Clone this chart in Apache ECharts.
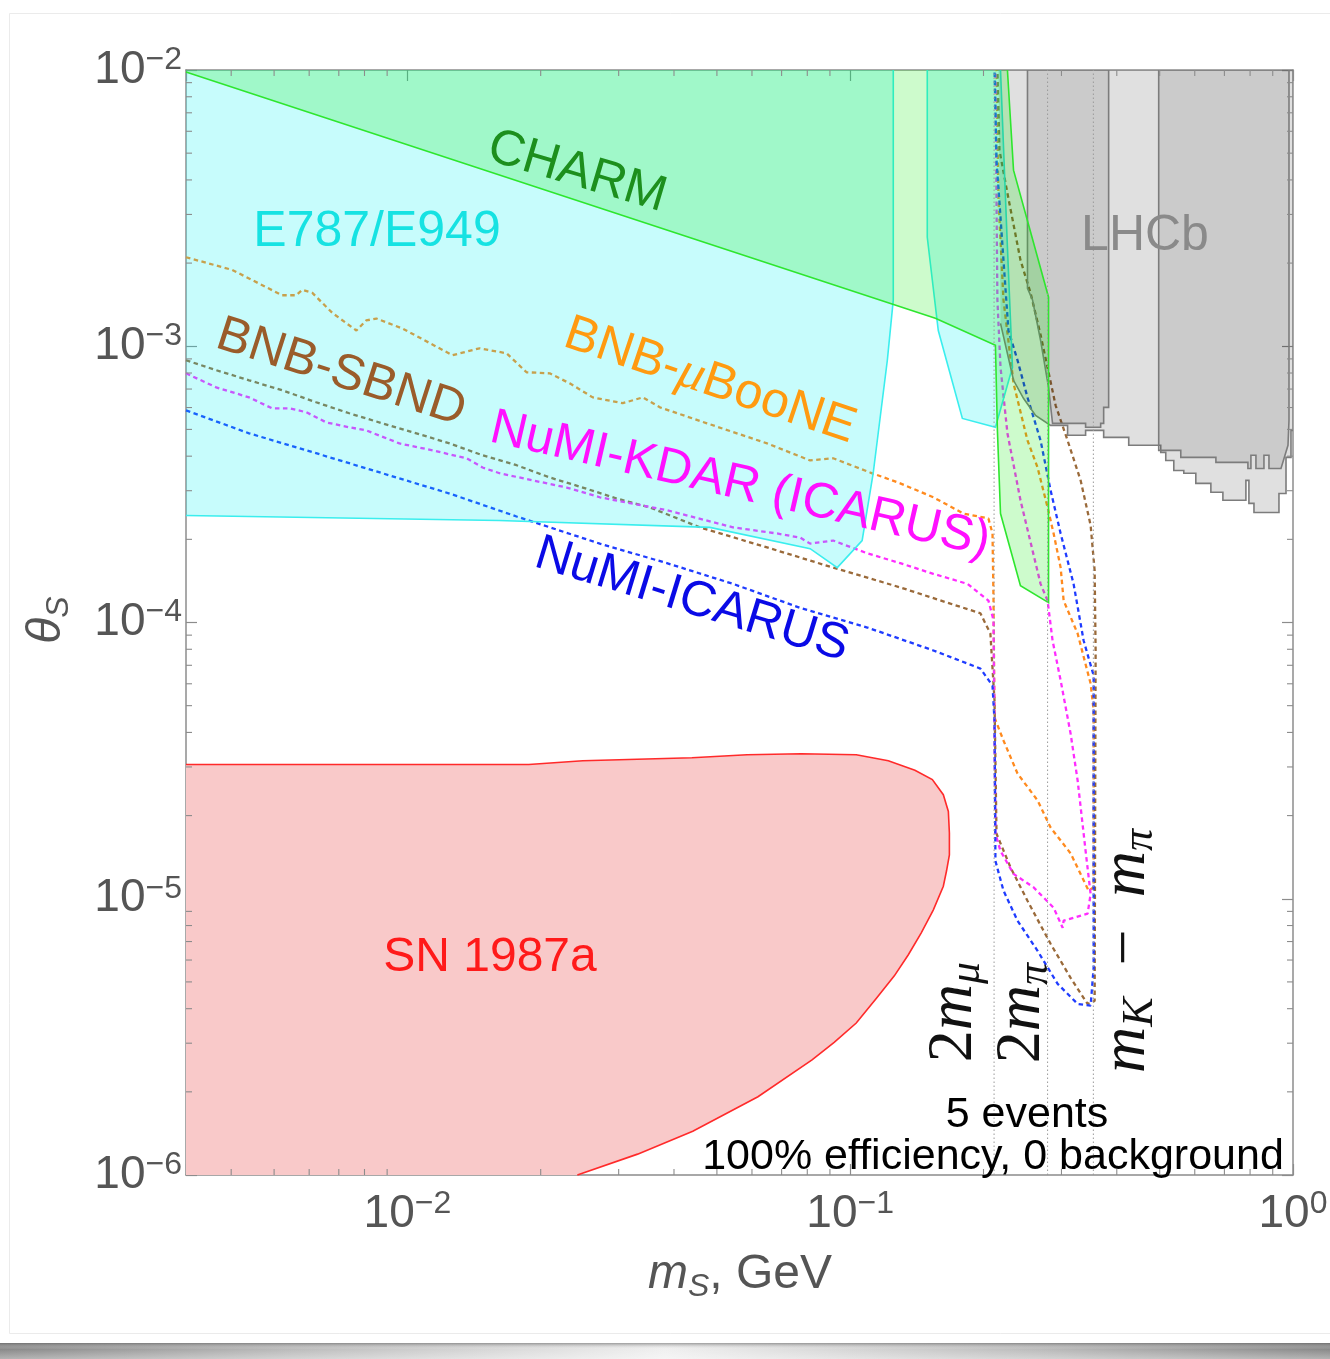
<!DOCTYPE html>
<html>
<head>
<meta charset="utf-8">
<script src="https://cdn.jsdelivr.net/npm/echarts@6/dist/echarts.min.js"></script>
<style>
  html, body { margin: 0; padding: 0; background: #ffffff; }
  #chart { width: 1330px; height: 1359px; }
</style>
</head>
<body>
<div id="chart"></div>
<script>
// ---------- axis ranges and ticks ----------
const xRange = [0.0031623, 1];      // m_S in GeV
const yRange = [1e-6, 1e-2];        // mixing angle theta_S
const xMinorTicks = [0.004, 0.005, 0.006, 0.007, 0.008, 0.009,
                     0.02, 0.03, 0.04, 0.05, 0.06, 0.07, 0.08, 0.09,
                     0.2, 0.3, 0.4, 0.5, 0.6, 0.7, 0.8, 0.9];
const yMinorTicks = [2e-6, 3e-6, 4e-6, 5e-6, 6e-6, 7e-6, 8e-6, 9e-6,
                     2e-5, 3e-5, 4e-5, 5e-5, 6e-5, 7e-5, 8e-5, 9e-5,
                     2e-4, 3e-4, 4e-4, 5e-4, 6e-4, 7e-4, 8e-4, 9e-4,
                     2e-3, 3e-3, 4e-3, 5e-3, 6e-3, 7e-3, 8e-3, 9e-3];

// kinematic thresholds: 2 m_mu, 2 m_pi, m_K - m_pi (GeV)
const thresholdMasses = [0.2113, 0.2791, 0.3541];

// ---------- excluded regions: drawn edge + closure along the frame ----------
const charmEdge = [[0.0031623, 0.00983], [0.1557, 1.263e-3], [0.2128, 1.008e-3], [0.2150, 4.96e-4],
  [0.2185, 2.48e-4], [0.2424, 1.36e-4], [0.2805, 1.18e-4], [0.2805, 1.505e-3], [0.2338, 4.34e-3], [0.2265, 0.01]];
const charmClosure = [[0.0031623, 0.01]];

const e787MainEdge = [[0.1251, 0.01], [0.1251, 1.468e-3], [0.1213, 8.90e-4], [0.1127, 3.47e-4], [0.1064, 1.98e-4],
  [0.0935, 1.58e-4], [0.0812, 1.85e-4], [0.0482, 2.21e-4], [0.0161, 2.34e-4], [0.0031623, 2.44e-4]];
const e787MainClosure = [[0.0031623, 0.01]];

const e787RightEdge = [[0.1493, 0.01], [0.1493, 2.48e-3], [0.1581, 1.14e-3], [0.1792, 5.48e-4], [0.2128, 5.09e-4],
  [0.2325, 8.39e-4], [0.2265, 2.28e-3], [0.2185, 0.01]];
const e787RightClosure = [];

const lhcbOuterEdge = [[0.2185, 1.21e-3], [0.2338, 7.53e-4], [0.2462, 6.48e-4], [0.2622, 5.62e-4], [0.2835, 5.17e-4],
  [0.3097, 5.17e-4], [0.3097, 4.76e-4], [0.3401, 4.76e-4], [0.3401, 4.96e-4], [0.3736, 4.96e-4], [0.3736, 4.68e-4],
  [0.4256, 4.68e-4], [0.4256, 4.38e-4], [0.5027, 4.38e-4], [0.5027, 4.13e-4], [0.5160, 4.13e-4], [0.5160, 3.86e-4],
  [0.5380, 3.86e-4], [0.5380, 3.55e-4], [0.5667, 3.55e-4], [0.5667, 3.47e-4], [0.6033, 3.47e-4], [0.6033, 3.19e-4],
  [0.6524, 3.19e-4], [0.6524, 2.96e-4], [0.6945, 2.96e-4], [0.6945, 2.77e-4], [0.7828, 2.77e-4], [0.7828, 3.27e-4],
  [0.7951, 3.27e-4], [0.7951, 2.70e-4], [0.8163, 2.70e-4], [0.8163, 2.50e-4], [0.9296, 2.50e-4], [0.9296, 2.93e-4],
  [0.9643, 2.93e-4], [0.9643, 3.96e-4], [0.9896, 3.96e-4], [0.9896, 4.96e-4], [1.0, 4.96e-4]];
const lhcbOuterClosure = [[1.0, 0.01], [0.2162, 0.01]];

const lhcbBandAEdge = [[0.2514, 0.01], [0.2514, 1.62e-3], [0.2581, 1.47e-3], [0.2691, 1.05e-3], [0.2805, 7.10e-4],
  [0.2864, 5.26e-4], [0.3401, 5.26e-4], [0.3401, 5.09e-4], [0.3678, 5.09e-4], [0.3678, 5.26e-4], [0.3736, 5.26e-4],
  [0.3736, 6.01e-4], [0.3834, 6.01e-4], [0.3834, 0.01]];
const lhcbBandBEdge = [[0.4974, 0.01], [0.4974, 4.20e-4], [0.5579, 4.20e-4], [0.5579, 3.96e-4], [0.6697, 3.96e-4],
  [0.6697, 3.80e-4], [0.7910, 3.80e-4], [0.7910, 3.61e-4], [0.8035, 3.61e-4], [0.8035, 4.03e-4], [0.8247, 4.03e-4],
  [0.8247, 3.61e-4], [0.8598, 3.61e-4], [0.8598, 4.03e-4], [0.8825, 4.03e-4], [0.8825, 3.61e-4], [0.9394, 3.61e-4],
  [0.9743, 4.38e-4], [0.9794, 5.39e-4], [0.9794, 0.01]];

const snEdge = [[0.0031623, 3.06e-5], [0.0188, 3.06e-5], [0.0249, 3.16e-5], [0.0439, 3.24e-5], [0.0585, 3.32e-5],
  [0.0775, 3.35e-5], [0.1032, 3.32e-5], [0.1219, 3.16e-5], [0.1400, 2.92e-5], [0.1533, 2.70e-5], [0.1623, 2.38e-5],
  [0.1666, 2.07e-5], [0.1675, 1.73e-5], [0.1675, 1.44e-5], [0.1650, 1.26e-5], [0.1623, 1.11e-5], [0.1540, 9.10e-6],
  [0.1447, 7.53e-6], [0.1353, 6.27e-6], [0.1258, 5.26e-6], [0.1145, 4.35e-6], [0.1032, 3.55e-6], [0.0920, 3.02e-6],
  [0.0820, 2.61e-6], [0.0619, 1.92e-6], [0.0441, 1.44e-6], [0.0331, 1.19e-6], [0.0242, 1.0e-6]];
const snClosure = [[0.0031623, 1e-6]];

// ---------- projected sensitivity contours (5 events) ----------
const bnbMicroBooNE = [[0.0031623, 2.10e-3], [0.00402, 1.89e-3], [0.00521, 1.53e-3], [0.00561, 1.53e-3], [0.00579, 1.60e-3],
  [0.00610, 1.56e-3], [0.00677, 1.32e-3], [0.00767, 1.14e-3], [0.00807, 1.24e-3], [0.00851, 1.26e-3], [0.00974, 1.16e-3],
  [0.01264, 9.28e-4], [0.01455, 9.83e-4], [0.01675, 9.43e-4], [0.01858, 8.05e-4], [0.02096, 7.98e-4], [0.02326, 7.34e-4],
  [0.02622, 6.53e-4], [0.03064, 6.22e-4], [0.03401, 6.53e-4], [0.03717, 6.01e-4], [0.04748, 5.26e-4], [0.0649, 4.45e-4],
  [0.0812, 3.86e-4], [0.09152, 3.93e-4], [0.111, 3.49e-4], [0.1297, 3.19e-4], [0.1541, 2.84e-4], [0.1802, 2.48e-4],
  [0.2052, 2.38e-4], [0.2096, 2.10e-4], [0.2107, 1.20e-4], [0.2118, 4.53e-5], [0.2219, 3.74e-5], [0.2387, 2.84e-5],
  [0.2649, 2.27e-5], [0.2835, 1.81e-5], [0.3146, 1.46e-5], [0.3455, 1.07e-5], [0.3546, 1.10e-5], [0.3546, 4.80e-5],
  [0.3491, 6.01e-5], [0.3263, 9.12e-5], [0.3034, 1.20e-4], [0.2987, 1.58e-4], [0.288, 2.10e-4], [0.2791, 2.61e-4],
  [0.2649, 3.64e-4], [0.2514, 4.56e-4], [0.2338, 7.34e-4], [0.2219, 1.47e-3], [0.2162, 3.38e-3], [0.2140, 0.01]];

const bnbSbnd = [[0.0031623, 8.90e-4], [0.00370, 8.19e-4], [0.00439, 7.53e-4], [0.00521, 6.93e-4], [0.00622, 6.27e-4],
  [0.00739, 5.72e-4], [0.00878, 5.26e-4], [0.01048, 4.84e-4], [0.01245, 4.45e-4], [0.01478, 4.03e-4], [0.01764, 3.71e-4],
  [0.02096, 3.35e-4], [0.02489, 3.08e-4], [0.02971, 2.81e-4], [0.03528, 2.61e-4], [0.04577, 2.21e-4], [0.0649, 1.87e-4],
  [0.09152, 1.58e-4], [0.1297, 1.34e-4], [0.1684, 1.17e-4], [0.1968, 1.08e-4], [0.2073, 9.12e-5], [0.2118, 5.22e-5],
  [0.2140, 1.72e-5], [0.2301, 1.30e-5], [0.2514, 9.83e-6], [0.2835, 6.87e-6], [0.3146, 5.17e-6], [0.3437, 4.16e-6],
  [0.3565, 4.27e-6], [0.3583, 7.92e-5], [0.3565, 1.54e-4], [0.3491, 2.25e-4], [0.3314, 3.27e-4], [0.3097, 4.56e-4],
  [0.291, 6.11e-4], [0.2691, 1.10e-3], [0.2554, 1.56e-3], [0.2424, 2.05e-3], [0.2265, 3.58e-3], [0.2173, 5.13e-3],
  [0.2150, 0.01]];

const numiKdar = [[0.0031623, 7.98e-4], [0.00370, 7.10e-4], [0.00439, 6.53e-4], [0.00495, 5.96e-4], [0.00541, 5.96e-4],
  [0.00591, 5.77e-4], [0.00656, 5.30e-4], [0.00739, 5.09e-4], [0.00807, 4.96e-4], [0.00959, 4.45e-4], [0.01139, 4.20e-4],
  [0.0136, 3.93e-4], [0.01478, 3.64e-4], [0.01615, 3.47e-4], [0.01918, 3.27e-4], [0.02289, 3.08e-4], [0.02719, 2.84e-4],
  [0.03855, 2.55e-4], [0.05437, 2.21e-4], [0.06836, 2.10e-4], [0.07707, 2.03e-4], [0.0812, 1.93e-4], [0.09152, 1.98e-4],
  [0.1093, 1.78e-4], [0.1297, 1.64e-4], [0.1541, 1.50e-4], [0.184, 1.38e-4], [0.2052, 1.20e-4], [0.2107, 1.02e-4],
  [0.2128, 1.72e-5], [0.2185, 1.49e-5], [0.2338, 1.23e-5], [0.2594, 1.10e-5], [0.288, 9.28e-6], [0.3018, 7.85e-6],
  [0.3034, 8.33e-6], [0.3437, 8.83e-6], [0.3491, 1.04e-5], [0.3401, 1.49e-5], [0.3263, 2.68e-5], [0.3146, 3.96e-5],
  [0.2987, 6.17e-5], [0.2864, 8.61e-5], [0.2791, 1.20e-4], [0.2691, 1.38e-4], [0.2424, 2.77e-4], [0.2265, 4.84e-4],
  [0.2185, 8.39e-4], [0.2150, 1.47e-3], [0.2140, 3.38e-3], [0.2128, 0.01]];

const numiIcarus = [[0.0031623, 5.86e-4], [0.00439, 4.84e-4], [0.00622, 4.10e-4], [0.00878, 3.47e-4], [0.01245, 2.93e-4],
  [0.01764, 2.42e-4], [0.02719, 1.93e-4], [0.03855, 1.64e-4], [0.05437, 1.38e-4], [0.07707, 1.13e-4], [0.1093, 9.59e-5],
  [0.1541, 7.92e-5], [0.1968, 6.81e-5], [0.2096, 5.91e-5], [0.2118, 4.41e-5], [0.2128, 1.37e-5], [0.2219, 1.07e-5],
  [0.2387, 8.33e-6], [0.2649, 6.48e-6], [0.2941, 4.92e-6], [0.3263, 4.16e-6], [0.3491, 4.10e-6], [0.3546, 5.62e-6],
  [0.3546, 6.43e-5], [0.3366, 8.61e-5], [0.3195, 1.38e-4], [0.2987, 2.10e-4], [0.2835, 3.01e-4], [0.2691, 4.56e-4],
  [0.2514, 6.53e-4], [0.2387, 8.90e-4], [0.2277, 1.14e-3], [0.2219, 2.05e-3], [0.2140, 4.72e-3], [0.2118, 0.01]];

// ---------- styling ----------
const SANS = '"Liberation Sans", Arial, Helvetica, sans-serif';
const SERIF = '"Liberation Serif", "DejaVu Serif", serif';
const AXIS_GRAY = '#8c8c8c';
const LABEL_GRAY = '#555555';

function powerLabel(v) {
  const e = Math.log10(v);
  const r = Math.round(e);
  if (Math.abs(e - r) > 1e-6) return '';
  return '{b|10}{e|' + (r < 0 ? '\u2212' : '') + Math.abs(r) + '}';
}
const powerRich = {
  b: { fontSize: 46, lineHeight: 52, color: LABEL_GRAY, fontFamily: SANS },
  e: { fontSize: 32, lineHeight: 16, verticalAlign: 'top', color: LABEL_GRAY, fontFamily: SANS }
};

function logAxis(range, position, showLabels) {
  return {
    type: 'log', logBase: 10, min: range[0], max: range[1], position: position,
    axisLine: { show: true, lineStyle: { color: AXIS_GRAY, width: 1.5 } },
    axisTick: { show: true, inside: true, length: 11, lineStyle: { color: AXIS_GRAY, width: 1.2 } },
    minorTick: { show: false },
    splitLine: { show: false },
    axisLabel: showLabels
      ? { show: true, margin: (position === 'bottom' ? 13 : 4), formatter: powerLabel, rich: powerRich }
      : { show: false }
  };
}

// filled region with its outline drawn along the given edge only
function regionSeries(name, edge, closure, fill, stroke, z) {
  return {
    type: 'custom', name: name, xAxisIndex: 0, yAxisIndex: 0, z: z, silent: true,
    data: [edge[0]],
    renderItem: function (params, api) {
      const poly = edge.concat(closure).map(function (p) { return api.coord(p); });
      const outline = edge.map(function (p) { return api.coord(p); });
      return {
        type: 'group',
        children: [
          { type: 'polygon', shape: { points: poly }, style: { fill: fill, stroke: null } },
          { type: 'polyline', shape: { points: outline }, style: { fill: null, stroke: stroke, lineWidth: 1.6 } }
        ]
      };
    }
  };
}

function contourSeries(name, data, color) {
  return {
    type: 'line', name: name, data: data, xAxisIndex: 0, yAxisIndex: 0, z: 1,
    symbol: 'none', showSymbol: false, silent: true, smooth: false,
    lineStyle: { color: color, width: 2.3, type: [4.5, 3.5] }
  };
}

function thresholdSeries(m) {
  return {
    type: 'line', data: [[m, yRange[0]], [m, yRange[1]]], xAxisIndex: 0, yAxisIndex: 0, z: 6,
    symbol: 'none', silent: true,
    lineStyle: { color: '#9a9a9a', width: 1, type: [1.5, 2.5] }
  };
}

const minorTickSeriesX = {
  type: 'custom', xAxisIndex: 0, yAxisIndex: 0, z: 8, silent: true,
  data: xMinorTicks.map(function (v) { return [v, yRange[0]]; }),
  renderItem: function (params, api) {
    const cs = params.coordSys;
    const px = api.coord([api.value(0), yRange[0]])[0];
    const st = { stroke: AXIS_GRAY, lineWidth: 1.1 };
    return { type: 'group', children: [
      { type: 'line', shape: { x1: px, y1: cs.y + cs.height, x2: px, y2: cs.y + cs.height - 6 }, style: st },
      { type: 'line', shape: { x1: px, y1: cs.y, x2: px, y2: cs.y + 6 }, style: st }
    ] };
  }
};
const minorTickSeriesY = {
  type: 'custom', xAxisIndex: 0, yAxisIndex: 0, z: 8, silent: true,
  data: yMinorTicks.map(function (v) { return [xRange[0], v]; }),
  renderItem: function (params, api) {
    const cs = params.coordSys;
    const py = api.coord([xRange[0], api.value(1)])[1];
    const st = { stroke: AXIS_GRAY, lineWidth: 1.1 };
    return { type: 'group', children: [
      { type: 'line', shape: { x1: cs.x, y1: py, x2: cs.x + 6, y2: py }, style: st },
      { type: 'line', shape: { x1: cs.x + cs.width, y1: py, x2: cs.x + cs.width - 6, y2: py }, style: st }
    ] };
  }
};

function textEl(x, y, rotDeg, style) {
  return {
    type: 'text', x: x, y: y, rotation: rotDeg * Math.PI / 180, z: 50, silent: true,
    style: Object.assign({
      fontFamily: SANS, fontSize: 50, fill: '#000',
      textAlign: 'center', textVerticalAlign: 'middle', align: 'center', verticalAlign: 'middle'
    }, style)
  };
}

// rich-text token helper for graphic texts
function tok(family, size, colour, extra) {
  return Object.assign({ fontFamily: family, fontSize: size, fill: colour, color: colour }, extra || {});
}

const MATH_INK = '#111111';
const mathRich = {
  n: tok(SERIF, 64, MATH_INK, { lineHeight: 70 }),
  i: tok(SERIF, 64, MATH_INK, { fontStyle: 'italic', lineHeight: 70 }),
  s: tok(SERIF, 44, MATH_INK, { fontStyle: 'italic', lineHeight: 28, verticalAlign: 'bottom' })
};

const option = {
  animation: false,
  backgroundColor: '#ffffff',
  grid: { left: 186, top: 70, width: 1107, height: 1105, containLabel: false, outerBoundsMode: 'none' },
  xAxis: [logAxis(xRange, 'bottom', true), logAxis(xRange, 'top', false)],
  yAxis: [logAxis(yRange, 'left', true), logAxis(yRange, 'right', false)],
  series: [
    contourSeries('BNB-μBooNE', bnbMicroBooNE, '#ff8a1e'),
    contourSeries('BNB-SBND', bnbSbnd, '#9a6a3a'),
    contourSeries('NuMI-KDAR (ICARUS)', numiKdar, '#ff2cff'),
    contourSeries('NuMI-ICARUS', numiIcarus, '#1f3cff'),
    regionSeries('SN 1987a', snEdge, snClosure, '#f9c9c9', '#ff2a2a', 3),
    regionSeries('E787/E949', e787MainEdge, e787MainClosure, 'rgba(0,240,240,0.22)', '#3aeeee', 3),
    regionSeries('E787/E949 (high mass)', e787RightEdge, e787RightClosure, 'rgba(0,240,240,0.22)', '#3aeeee', 3),
    regionSeries('LHCb', lhcbOuterEdge, lhcbOuterClosure, 'rgba(0,0,0,0.12)', '#7c7c7c', 4),
    regionSeries('LHCb band A', lhcbBandAEdge, [], 'rgba(0,0,0,0.09)', '#7c7c7c', 4),
    regionSeries('LHCb band B', lhcbBandBEdge, [], 'rgba(0,0,0,0.09)', '#7c7c7c', 4),
    regionSeries('CHARM', charmEdge, charmClosure, 'rgba(4,236,0,0.2)', '#2ee62e', 5),
    thresholdSeries(thresholdMasses[0]),
    thresholdSeries(thresholdMasses[1]),
    thresholdSeries(thresholdMasses[2]),
    minorTickSeriesX,
    minorTickSeriesY
  ],
  graphic: [
    // page frame and shadow strip
    { type: 'rect', z: 0, silent: true, shape: { x: 9.5, y: 13.5, width: 1400, height: 1320 },
      style: { fill: null, stroke: '#ebebeb', lineWidth: 1 } },
    { type: 'rect', z: 0, silent: true, shape: { x: 0, y: 1343, width: 1330, height: 16 },
      style: { fill: { type: 'linear', x: 0, y: 0, x2: 1, y2: 0, colorStops: [
        { offset: 0, color: '#8a8a8a' }, { offset: 0.22, color: '#bcbcbc' }, { offset: 0.5, color: '#f0f0f0' },
        { offset: 0.78, color: '#bcbcbc' }, { offset: 1, color: '#8a8a8a' }] } } },
    { type: 'rect', z: 1, silent: true, shape: { x: 0, y: 1343, width: 1330, height: 16 },
      style: { fill: { type: 'linear', x: 0, y: 0, x2: 0, y2: 1, colorStops: [
        { offset: 0, color: 'rgba(90,90,90,0.55)' }, { offset: 0.4, color: 'rgba(255,255,255,0)' },
        { offset: 1, color: 'rgba(255,255,255,0.35)' }] } } },

    // region labels
    textEl(577, 172, -16.5, { text: 'CHARM', fill: '#1d8f1d' }),
    textEl(377, 232, 0, { text: 'E787/E949', fill: '#16e2e2' }),
    textEl(1145, 236, 0, { text: 'LHCb', fill: '#8a8a8a' }),
    textEl(710, 381, -18.6, { text: '{t|BNB-}{g|μ}{t|BooNE}', fill: '#ff9a10', rich: {
      t: tok(SANS, 50, '#ff9a10'),
      g: tok(SERIF, 52, '#ff9a10', { fontStyle: 'italic' }) } }),
    textEl(341, 373, -17.8, { text: 'BNB-SBND', fill: '#9a5c2a' }),
    textEl(740, 485, -13, { text: 'NuMI-KDAR (ICARUS)', fill: '#ff10ff' }),
    textEl(692, 600, -17, { text: 'NuMI-ICARUS', fill: '#0a0ae6' }),
    textEl(490, 958, 0, { text: 'SN 1987a', fill: '#ff1a1a', fontSize: 48 }),

    // threshold labels
    textEl(954, 1012, 90, { text: '{n|2}{i|m}{s|μ}', fill: MATH_INK, rich: mathRich }),
    textEl(1022, 1013, 90, { text: '{n|2}{i|m}{s|π}', fill: MATH_INK, rich: mathRich }),
    textEl(1127, 951, 90, { text: '{i|m}{s|K}{n|  \u2212  }{i|m}{s|π}', fill: MATH_INK, rich: mathRich }),

    // annotation
    textEl(1027, 1115, 0, { text: '5 events', fontSize: 43, fill: '#000' }),
    textEl(993, 1157, 0, { text: '100% efficiency, 0 background', fontSize: 43, fill: '#000' }),

    // axis titles
    textEl(740, 1275, 0, { text: '{m|m}{s|S}{r|, GeV}', fill: LABEL_GRAY, rich: {
      m: tok(SANS, 48, LABEL_GRAY, { fontStyle: 'italic', lineHeight: 56 }),
      s: tok(SANS, 32, LABEL_GRAY, { fontStyle: 'italic', lineHeight: 30, verticalAlign: 'bottom' }),
      r: tok(SANS, 48, LABEL_GRAY, { lineHeight: 56 }) } }),
    textEl(47, 620, 90, { text: '{t|θ}{s|S}', fill: LABEL_GRAY, rich: {
      t: tok(SANS, 48, LABEL_GRAY, { fontStyle: 'italic', lineHeight: 56 }),
      s: tok(SANS, 32, LABEL_GRAY, { fontStyle: 'italic', lineHeight: 30, verticalAlign: 'bottom' }) } })
  ]
};

const chart = echarts.init(document.getElementById('chart'), null, { renderer: 'canvas', width: 1330, height: 1359 });
chart.setOption(option);
</script>
</body>
</html>
